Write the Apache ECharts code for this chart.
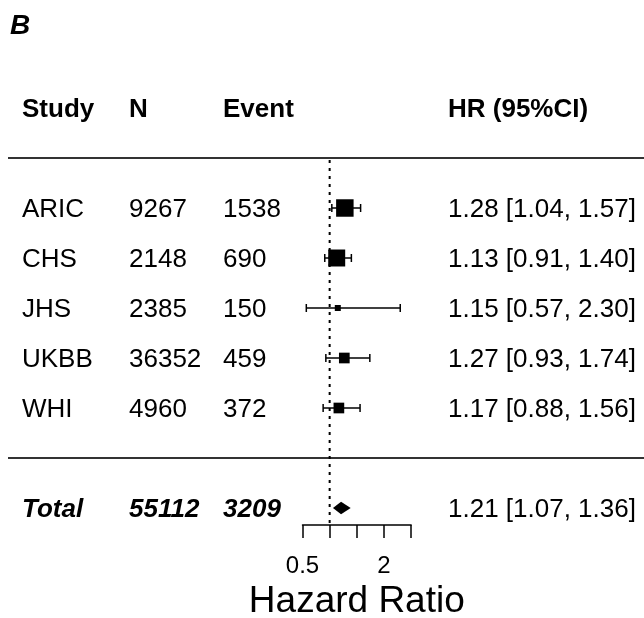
<!DOCTYPE html>
<html><head><meta charset="utf-8">
<script src="https://cdn.jsdelivr.net/npm/echarts@6/dist/echarts.min.js"></script>
<style>html,body{margin:0;padding:0;background:#fff}#c{width:644px;height:618px}</style>
</head><body><div id="c"></div>
<script>
// ---- data ----
const studies = ['ARIC', 'CHS', 'JHS', 'UKBB', 'WHI'];
const nVals = [9267, 2148, 2385, 36352, 4960];
const events = [1538, 690, 150, 459, 372];
const hr = [1.28, 1.13, 1.15, 1.27, 1.17];
const lower = [1.04, 0.91, 0.57, 0.93, 0.88];
const upper = [1.57, 1.40, 2.30, 1.74, 1.56];
const weights = [35.6, 33.6, 4.2, 13.3, 13.3];
const ciText = ['1.28 [1.04, 1.57]', '1.13 [0.91, 1.40]', '1.15 [0.57, 2.30]', '1.27 [0.93, 1.74]', '1.17 [0.88, 1.56]'];
const totalLabel = 'Total';
const totalN = 55112;
const totalEvents = 3209;
const totalHR = [1.21];
const totalLower = [1.07];
const totalUpper = [1.36];
const totalCiText = '1.21 [1.07, 1.36]';
const headers = ['Study', 'N', 'Event', 'HR (95%CI)'];
const xTickLabels = { '0.5': '0.5', '2': '2' };
const refValue = 1;
const panelLabel = 'B';
const axisTitle = 'Hazard Ratio';

// ---- layout ----
const FONT = "'Liberation Sans', Arial, sans-serif";
const colX = [22, 129, 223, 448];
const textDy = 2;
const rowHeader = -2, rowSepTop = -1, rowSepBottom = 5, rowTotal = 6, rowAxis = 6.34;

const chart = echarts.init(document.getElementById('c'), null, { renderer: 'canvas' });

const tableRows = [];
tableRows.push({ value: [0.5, rowHeader], cells: headers, kind: 'header' });
studies.forEach((s, i) => tableRows.push({ value: [0.5, i], cells: [s, String(nVals[i]), String(events[i]), ciText[i]], kind: 'row' }));
tableRows.push({ value: [0.5, rowTotal], cells: [totalLabel, String(totalN), String(totalEvents), totalCiText], kind: 'total' });

const forestData = studies.map((s, i) => [hr[i], i, lower[i], upper[i], weights[i]]);
const totalData = [[totalHR[0], rowTotal, totalLower[0], totalUpper[0]]];

chart.setOption({
  animation: false,
  backgroundColor: '#fff',
  title: {
    text: panelLabel, left: 5, top: 7,
    textStyle: { fontFamily: FONT, fontSize: 28, fontWeight: 'bold', fontStyle: 'italic', color: '#000' }
  },
  grid: { left: 302.5, right: 232.9, top: 158, bottom: 93, outerBoundsMode: 'none', containLabel: false },
  xAxis: {
    type: 'value', min: 0.5, max: 2.5, interval: 0.5,
    name: axisTitle, nameLocation: 'middle', nameGap: 45,
    nameTextStyle: { fontFamily: FONT, fontSize: 37, color: '#000' },
    axisLine: { show: true, onZero: false, lineStyle: { color: '#000', width: 1.5 } },
    axisTick: { show: true, length: 13, lineStyle: { color: '#000', width: 1.5 } },
    axisLabel: {
      fontFamily: FONT, fontSize: 24, color: '#000', margin: 29,
      formatter: v => xTickLabels[String(v)] || ''
    },
    splitLine: { show: false }
  },
  yAxis: { type: 'value', inverse: true, min: -1, max: rowAxis, interval: 0.02, show: false },
  series: [
    {
      type: 'custom', clip: false, z: 1,
      data: [[refValue, rowSepTop], [refValue, rowSepBottom]],
      renderItem: (params, api) => {
        const y = api.coord([api.value(0), api.value(1)])[1];
        return { type: 'line', shape: { x1: 8, y1: y, x2: 644, y2: y }, style: { stroke: '#333', lineWidth: 2 } };
      }
    },
    {
      type: 'custom', clip: false, z: 2,
      data: [[refValue, rowSepTop, rowAxis]],
      renderItem: (params, api) => {
        const p1 = api.coord([api.value(0), api.value(1)]);
        const p2 = api.coord([api.value(0), api.value(2)]);
        return { type: 'line', shape: { x1: p1[0], y1: p1[1] + 2, x2: p2[0], y2: p2[1] }, style: { stroke: '#000', lineWidth: 2, lineDash: [3, 5] } };
      }
    },
    {
      type: 'custom', clip: false, z: 3,
      data: forestData,
      renderItem: (params, api) => {
        const row = api.value(1);
        const c = api.coord([api.value(0), row]);
        const l = api.coord([api.value(2), row]);
        const u = api.coord([api.value(3), row]);
        const s = 2.93 * Math.sqrt(api.value(4));
        const st = { stroke: '#000', lineWidth: 1.5 };
        return {
          type: 'group', children: [
            { type: 'line', shape: { x1: l[0], y1: c[1], x2: u[0], y2: c[1] }, style: st },
            { type: 'line', shape: { x1: l[0], y1: c[1] - 4, x2: l[0], y2: c[1] + 4 }, style: st },
            { type: 'line', shape: { x1: u[0], y1: c[1] - 4, x2: u[0], y2: c[1] + 4 }, style: st },
            { type: 'rect', shape: { x: c[0] - s / 2, y: c[1] - s / 2, width: s, height: s }, style: { fill: '#000' } }
          ]
        };
      }
    },
    {
      type: 'custom', clip: false, z: 3,
      data: totalData,
      renderItem: (params, api) => {
        const row = api.value(1);
        const c = api.coord([api.value(0), row]);
        const l = api.coord([api.value(2), row]);
        const u = api.coord([api.value(3), row]);
        const h = 6.3;
        return {
          type: 'polygon',
          shape: { points: [[l[0] - 0.5, c[1]], [c[0], c[1] - h], [u[0] + 1.5, c[1]], [c[0], c[1] + h]] },
          style: { fill: '#000' }
        };
      }
    },
    {
      type: 'custom', clip: false, z: 4,
      data: tableRows,
      renderItem: (params, api) => {
        const item = tableRows[params.dataIndex];
        const y = api.coord([api.value(0), api.value(1)])[1] + textDy;
        const children = item.cells.map((t, k) => {
          let weight = 'normal', style = 'normal';
          if (item.kind === 'header') weight = 'bold';
          if (item.kind === 'total' && k < 3) { weight = 'bold'; style = 'italic'; }
          return {
            type: 'text',
            style: {
              text: t, x: colX[k], y: y, fill: '#000',
              font: style + ' ' + weight + ' 26px ' + FONT,
              textAlign: 'left', textVerticalAlign: 'middle'
            }
          };
        });
        return { type: 'group', children };
      }
    }
  ]
});
</script></body></html>
